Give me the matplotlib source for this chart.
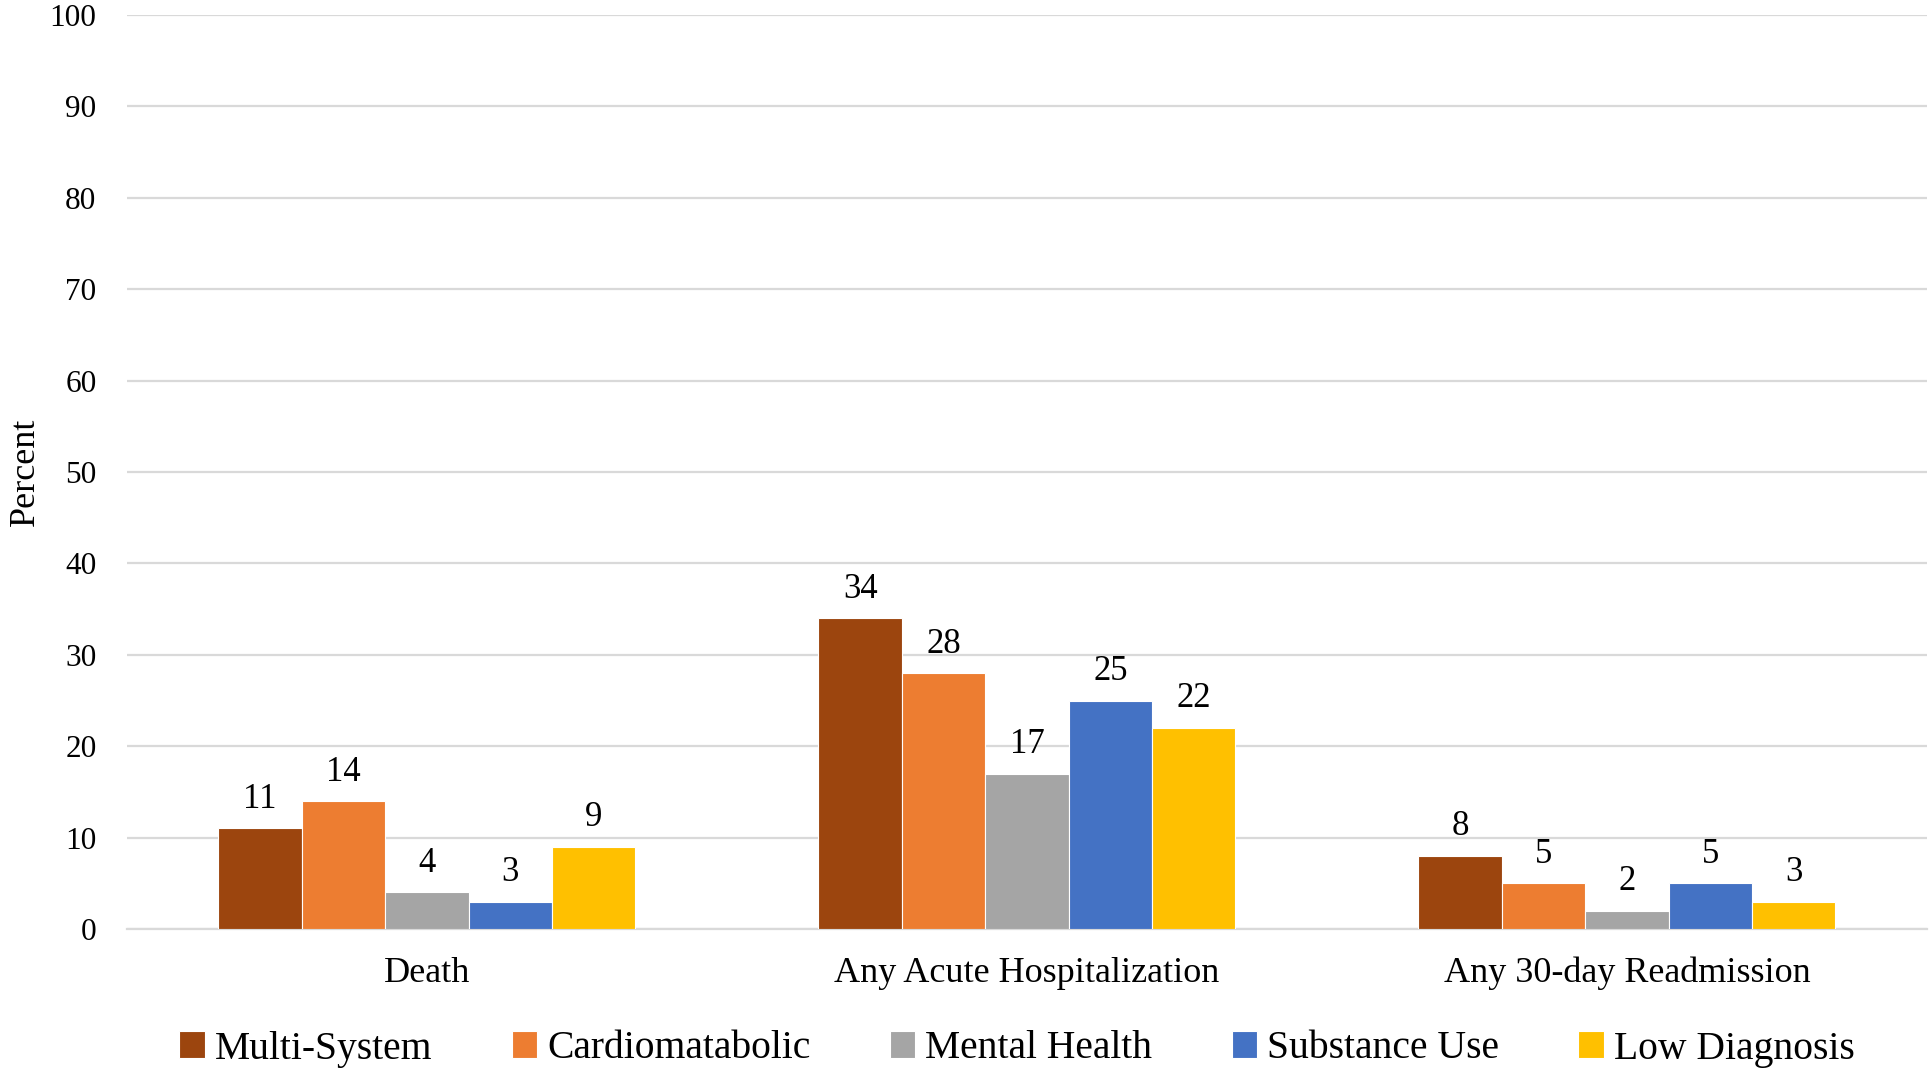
import matplotlib
matplotlib.use("Agg")
import matplotlib.pyplot as plt
import numpy as np

categories = ["Death", "Any Acute Hospitalization", "Any 30-day Readmission"]
series_names = ["Multi-System", "Cardiomatabolic", "Mental Health", "Substance Use", "Low Diagnosis"]
multi_system = [11, 34, 8]
cardiometabolic = [14, 28, 5]
mental_health = [4, 17, 2]
substance_use = [3, 25, 5]
low_diagnosis = [9, 22, 3]
colors = ["#9C450E", "#ED7D31", "#A5A5A5", "#4472C4", "#FFC000"]
yticks = [0, 10, 20, 30, 40, 50, 60, 70, 80, 90, 100]

plt.rcParams['font.family'] = ['Liberation Serif', 'DejaVu Serif']

fig = plt.figure(figsize=(19.31, 10.71), dpi=100)
ax = fig.add_axes([127/1931, 1 - 929/1071, (1927-127)/1931, (929-15)/1071])

values = [multi_system, cardiometabolic, mental_health, substance_use, low_diagnosis]
x = np.arange(len(categories))
w = 0.139
for i, (name, vals, c) in enumerate(zip(series_names, values, colors)):
    pos = x + (i - 2) * w
    ax.bar(pos, vals, width=w, color=c, label=name, edgecolor="white", linewidth=0.8, zorder=3)
    for p, v in zip(pos, vals):
        ax.annotate(str(v), (p, v), xytext=(0, 9), textcoords="offset points",
                    ha="center", va="bottom", fontsize=25, color="#000000")

ax.set_xlim(-0.5, 2.5)
ax.set_ylim(0, 100)
ax.set_yticks(yticks)
ax.set_yticklabels([str(t) for t in yticks], fontsize=22.5)
ax.set_xticks(x)
ax.set_xticklabels(categories, fontsize=26)
ax.tick_params(axis="both", length=0)
ax.tick_params(axis="x", pad=20)
ax.tick_params(axis="y", pad=22)
ax.grid(axis="y", color="#D9D9D9", linewidth=1.6, zorder=0)
for s in ["top", "right", "left"]:
    ax.spines[s].set_visible(False)
ax.spines["bottom"].set_color("#D9D9D9")
ax.spines["bottom"].set_linewidth(1.6)
ax.set_ylabel("Percent", fontsize=26)
ax.yaxis.set_label_coords(-0.047, 0.5)

fig.legend(loc="center", bbox_to_anchor=(1017/1931, 1 - 1049/1071), ncol=5, frameon=False,
           fontsize=28.5, handlelength=0.65, handleheight=0.65, handletextpad=0.25, columnspacing=2.0)

fig.savefig("out.png", dpi=100, facecolor="white")
